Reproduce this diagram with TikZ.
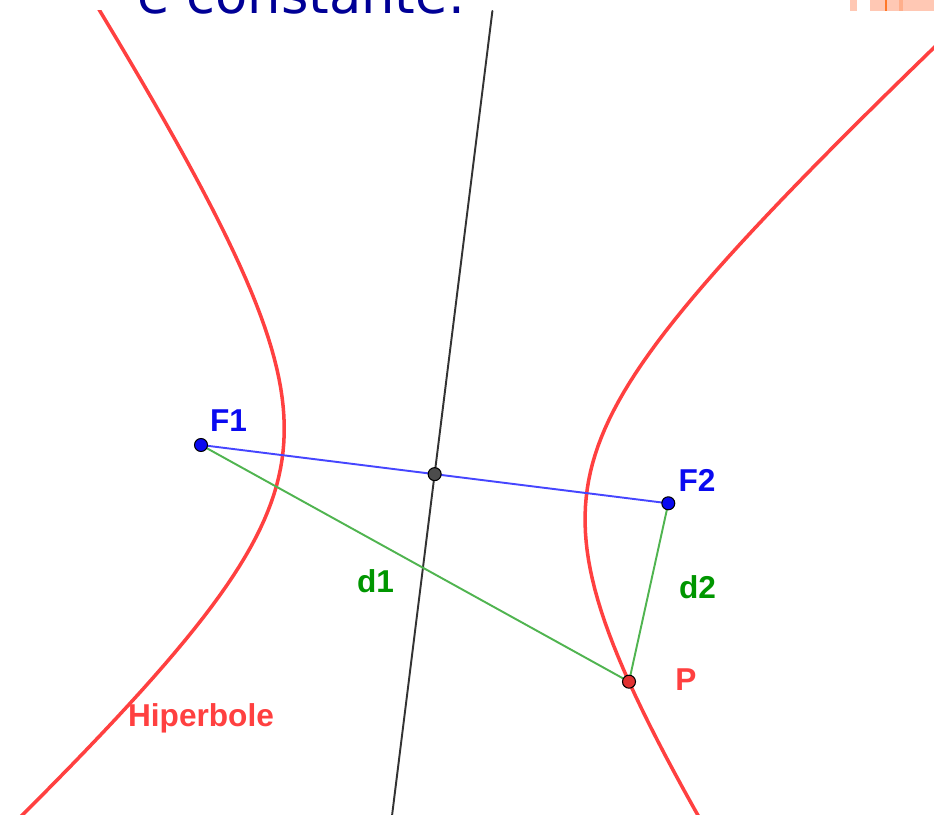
\documentclass[tikz,border=0pt]{standalone}
\usepackage{fontspec}
\setmainfont{Liberation Sans}
\newfontfamily\titlefont{DejaVu Sans}
\definecolor{hypred}{RGB}{255,64,64}
\definecolor{ptred}{RGB}{225,50,50}
\definecolor{focblue}{RGB}{10,10,240}
\definecolor{segblue}{RGB}{70,70,255}
\definecolor{seggreen}{RGB}{80,180,80}
\definecolor{txtgreen}{RGB}{0,150,0}
\definecolor{titlenavy}{RGB}{0,0,150}
\definecolor{boxorange}{RGB}{255,200,180}
\definecolor{midorange}{RGB}{255,175,140}
\definecolor{lineorange}{RGB}{255,120,40}

\begin{document}
\begin{tikzpicture}[x=0.02cm, y=0.02cm, line cap=round,
    ptdot/.style={circle, draw=black, line width=0.6pt, inner sep=0pt, minimum size=0.26cm},
    lbl/.style={anchor=base, font=\fontsize{18}{20}\selectfont\bfseries}]
  \useasboundingbox (0,0) rectangle (934,815);

  % 1. 焦点、中心、曲线上的点
  \coordinate (F1) at (201,370);
  \coordinate (F2) at (668.3,311.7);
  \coordinate (M) at (434.65,340.85);
  \coordinate (P) at (629,133.3);
  \coordinate (axT) at (492.4,804);
  \coordinate (axB) at (392.1,0);

  % 2. 双曲线与中垂线 (标题白条以下)
  \begin{scope}
    \clip (0,0) rectangle (934,804);
    \begin{scope}[shift={(M)}, rotate=-7.11]
      \draw[hypred, line width=2pt, domain=-2.4:2.4, samples=100, variable=\t]
        plot ({153.2*cosh(\t)}, {178.9*sinh(\t)});
      \draw[hypred, line width=2pt, domain=-2.4:2.4, samples=100, variable=\t]
        plot ({-153.2*cosh(\t)}, {178.9*sinh(\t)});
    \end{scope}
    \draw[black!80, line width=1.1pt] (axT) -- (axB);
  \end{scope}

  % 3. 焦距与两条距离 d1, d2
  \draw[segblue, line width=1.1pt] (F1) -- (F2);
  \draw[seggreen, line width=1.1pt] (F1) -- (P) -- (F2);

  % 4. 点
  \node[ptdot, fill=focblue] (dotF1) at (F1) {};
  \node[ptdot, fill=focblue] (dotF2) at (F2) {};
  \node[ptdot, fill=black!70] (dotM) at (M) {};
  \node[ptdot, fill=ptred] (dotP) at (P) {};

  % 5. 标签
  \node[lbl, text=focblue] (labF1) at (228.5,383) {F1};
  \node[lbl, text=focblue] (labF2) at (697,323) {F2};
  \node[lbl, text=txtgreen] (labd1) at (375.5,222) {d1};
  \node[lbl, text=txtgreen] (labd2) at (697.5,216) {d2};
  \node[lbl, text=hypred] (labP) at (686,124) {P};
  \node[lbl, text=hypred] (labH) at (201,88) {Hiperbole};

  % 6. 上方被截断的标题与橙色块
  \node[anchor=base west, inner sep=0pt, text=titlenavy,
        font=\titlefont\fontsize{30}{36}\selectfont] (title) at (137,801) {é constante.};
  \fill[boxorange] (850,804) rectangle (857,815);
  \fill[boxorange] (870,804) rectangle (934,815);
  \fill[midorange] (899,804) rectangle (903,815);
  \fill[lineorange] (884.5,804) rectangle (886.5,815);
\end{tikzpicture}
\end{document}
